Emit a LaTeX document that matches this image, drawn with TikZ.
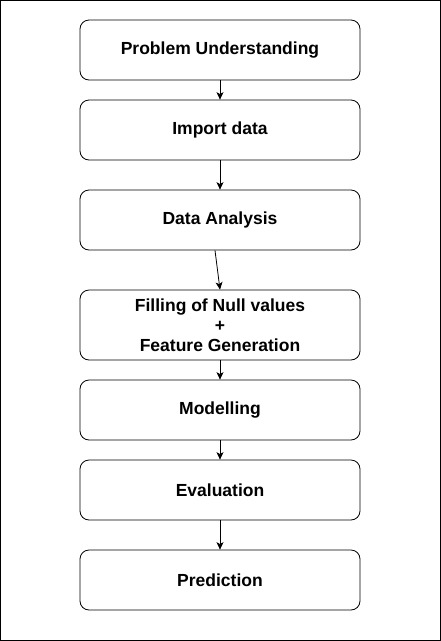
\documentclass[tikz,border=0pt]{standalone}
\usepackage{fontspec}
\setmainfont{Liberation Sans}
\usetikzlibrary{arrows.meta}

\tikzset{
  stepbox/.style={draw,line width=0.8pt,rounded corners=9pt,minimum width=280pt,minimum height=60pt,
    align=center,font=\bfseries\fontsize{17.5}{20}\selectfont,inner sep=0pt},
  flow/.style={line width=0.8pt,-{Stealth[length=7.5pt,width=7pt,inset=2pt]}}
}

\begin{document}
\begin{tikzpicture}[x=1pt,y=-1pt]
  \draw[line width=1pt] (0.5,0.5) rectangle (440.5,640.5);
  \node[stepbox] (problem) at (220,50) {Problem Understanding};
  \node[stepbox] (import) at (220,130) {Import data};
  \node[stepbox] (analysis) at (220,220) {Data Analysis};
  \node[stepbox,minimum height=70pt] (filling) at (220,325) {Filling of Null values\\+\\Feature Generation};
  \node[stepbox] (modelling) at (220,410) {Modelling};
  \node[stepbox] (evaluation) at (220,490) {Evaluation};
  \node[stepbox] (prediction) at (220,580) {Prediction};
  \coordinate (analysis-out) at ([xshift=-5pt]analysis.south);
  \draw[flow] (problem) -- (import);
  \draw[flow] (import) -- (analysis);
  \draw[flow] (analysis-out) -- (filling.north);
  \draw[flow] (filling) -- (modelling);
  \draw[flow] (modelling) -- (evaluation);
  \draw[flow] (evaluation) -- (prediction);
\end{tikzpicture}
\end{document}
